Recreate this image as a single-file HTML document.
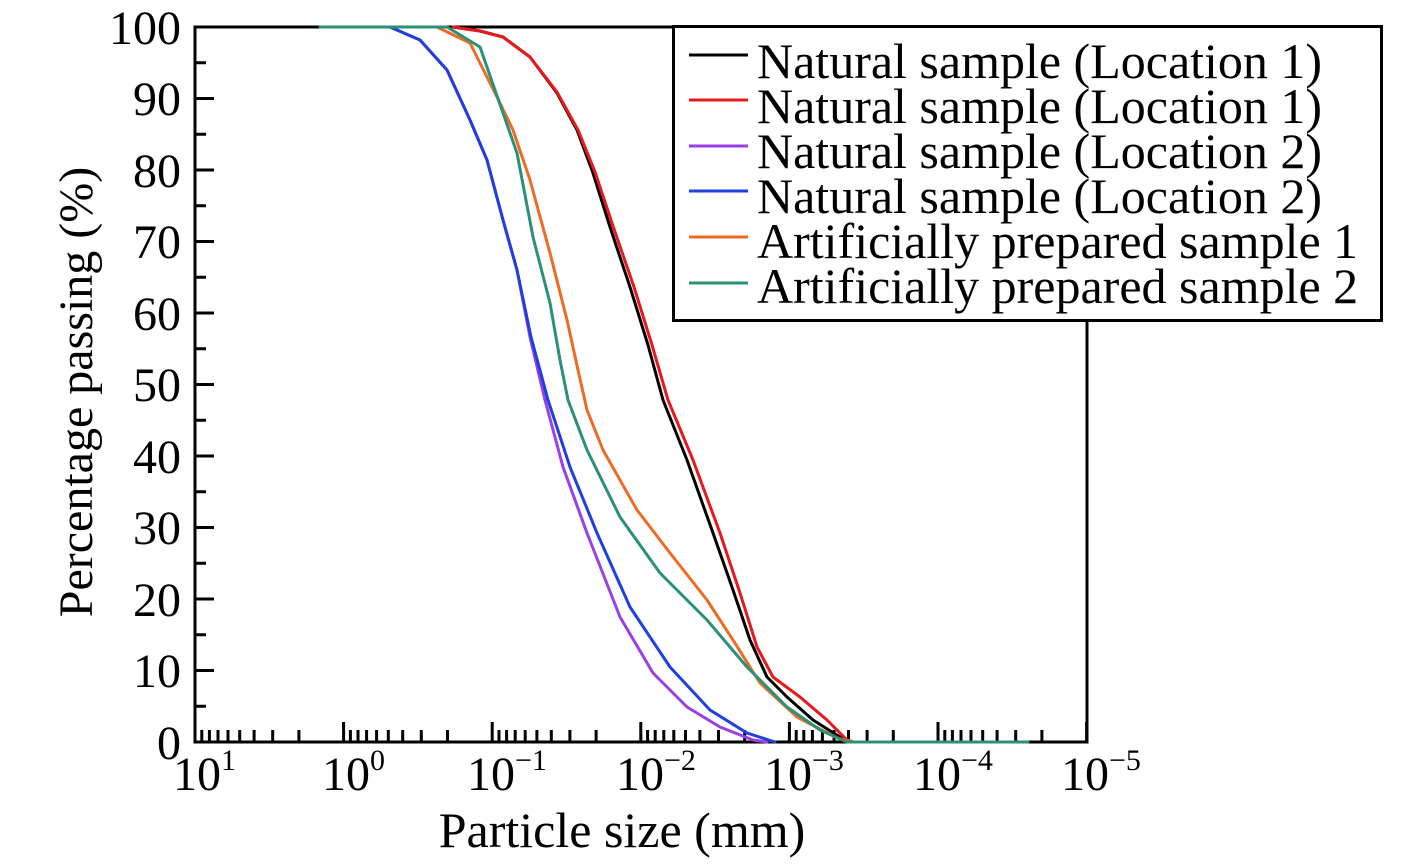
<!DOCTYPE html>
<html><head><meta charset="utf-8"><style>body{margin:0;background:#fff}svg{display:block}text{font-family:"Liberation Serif",serif;fill:#000}</style></head><body>
<svg width="1418" height="864" viewBox="0 0 1418 864" xmlns="http://www.w3.org/2000/svg">
<defs>
<path id="dec" d="M6.8,742V730M14.4,742V730M23,742V730M33,742V730M44.7,742V730M59.1,742V730M77.7,742V730M103.9,742V730M148.6,742V722"/>
</defs>
<g stroke="#000" stroke-width="3" fill="none">
<path d="M195,742V722"/>
<use href="#dec" x="195"/><use href="#dec" x="343.6"/><use href="#dec" x="492.2"/><use href="#dec" x="640.8"/><use href="#dec" x="789.4"/><use href="#dec" x="938"/>
<path d="M195,670.5H214M195,599H214M195,527.5H214M195,456H214M195,384.5H214M195,313H214M195,241.5H214M195,170H214M195,98.5H214M195,706.25H206M195,634.75H206M195,563.25H206M195,491.75H206M195,420.25H206M195,348.75H206M195,277.25H206M195,205.75H206M195,134.25H206M195,62.75H206"/>
</g>
<rect x="195" y="27" width="892" height="715" fill="none" stroke="#000" stroke-width="3"/>
<g fill="none" stroke-width="3" stroke-linejoin="round" stroke-linecap="round">
<polyline stroke="#000" points="453,27 480,31 503,37 530,57 557,93 577,130 593,173 610,227 630,287 648,345 663,400 687,460 713,533 733,590 750,640 767,677 787,697 813,720 840,737 853,742"/>
<polyline stroke="#e8191c" points="453,27 480,31 503,37 530,57 557,92 578,130 595,172 613,226 634,287 652,345 668,400 693,460 720,533 740,593 757,647 773,677 800,697 827,720 847,740 853,742"/>
<polyline stroke="#9b3fe6" points="390,27 420,40 447,70 470,120 487,160 503,220 517,270 530,337 545,400 563,467 587,533 620,617 653,673 687,707 720,727 753,740 767,742"/>
<polyline stroke="#1f3fe0" points="390,27 420,40 447,70 470,120 487,160 503,220 517,270 531,337 548,400 570,467 597,533 630,607 670,667 710,710 747,733 775,742"/>
<polyline stroke="#ec6b25" points="437,27 470,43 497,97 513,130 530,180 550,253 567,320 578,370 587,410 603,450 637,510 670,553 707,600 733,640 760,683 797,717 837,738 853,742"/>
<polyline stroke="#2a9077" points="320,27 447,27 480,47 503,113 517,153 533,237 550,303 560,360 568,400 587,450 620,517 660,573 707,620 747,667 787,707 820,730 847,742 1028,742"/>
</g>
<g font-size="48" text-anchor="end">
<text x="181" y="44">100</text><text x="181" y="115">90</text><text x="181" y="187">80</text><text x="181" y="258">70</text><text x="181" y="330">60</text><text x="181" y="401">50</text><text x="181" y="473">40</text><text x="181" y="544">30</text><text x="181" y="616">20</text><text x="181" y="687">10</text><text x="181" y="759">0</text>
</g>
<g font-size="48">
<text x="173" y="790">10<tspan font-size="30" dy="-20">1</tspan></text>
<text x="322" y="790">10<tspan font-size="30" dy="-20">0</tspan></text>
<text x="467" y="790">10<tspan font-size="30" dy="-20">−1</tspan></text>
<text x="616" y="790">10<tspan font-size="30" dy="-20">−2</tspan></text>
<text x="764" y="790">10<tspan font-size="30" dy="-20">−3</tspan></text>
<text x="913" y="790">10<tspan font-size="30" dy="-20">−4</tspan></text>
<text x="1061" y="790">10<tspan font-size="30" dy="-20">−5</tspan></text>
</g>
<text x="622" y="847" font-size="50" text-anchor="middle">Particle size (mm)</text>
<text transform="translate(92,392) rotate(-90)" font-size="48" text-anchor="middle">Percentage passing (%)</text>
<rect x="673.5" y="26.5" width="708" height="294" fill="#fff" stroke="#000" stroke-width="3"/>
<g stroke-width="3">
<line x1="689" x2="748" y1="55" y2="55" stroke="#000"/>
<line x1="689" x2="748" y1="100" y2="100" stroke="#e8191c"/>
<line x1="689" x2="748" y1="146" y2="146" stroke="#9b3fe6"/>
<line x1="689" x2="748" y1="191" y2="191" stroke="#1f3fe0"/>
<line x1="689" x2="748" y1="237" y2="237" stroke="#ec6b25"/>
<line x1="689" x2="748" y1="283" y2="283" stroke="#2a9077"/>
</g>
<g font-size="50">
<text x="757" y="78">Natural sample (Location 1)</text>
<text x="757" y="123">Natural sample (Location 1)</text>
<text x="757" y="168">Natural sample (Location 2)</text>
<text x="757" y="213">Natural sample (Location 2)</text>
<text x="757" y="258">Artificially prepared sample 1</text>
<text x="757" y="303">Artificially prepared sample 2</text>
</g>
</svg>
</body></html>
